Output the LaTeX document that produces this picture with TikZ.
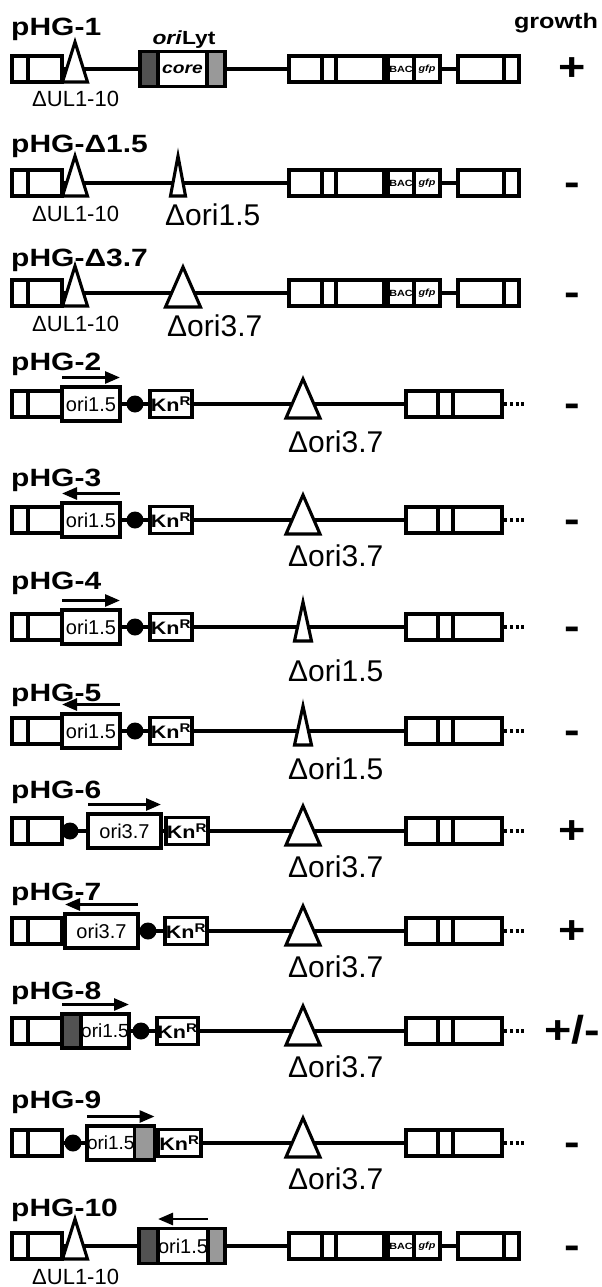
\documentclass[tikz,border=0pt]{standalone}
\usepackage{fontspec}
\setmainfont{Liberation Sans}
\usepackage{graphicx}
\usetikzlibrary{arrows.meta, positioning, backgrounds}

\definecolor{darkseg}{gray}{0.32}
\definecolor{lightseg}{gray}{0.60}

% wide bold lettering of the panel
\newcommand{\wide}[1]{\scalebox{1.2}[1]{#1}}
% deletion mark: base centre x, base y, half base, height
\newcommand{\deltri}[4]{\draw[delmark] ({#1-#3},{#2}) -- ({#1},{#2-#4}) -- ({#1+#3},{#2}) -- cycle;}

\tikzset{
  seg/.style={draw, line width=3.1pt, fill=white, minimum height=26pt, inner sep=0pt, outer sep=0pt, anchor=west},
  orib/.style={seg, minimum height=34pt, font=\fontsize{20}{20}\selectfont},
  lytb/.style={seg, minimum height=35pt},
  knr/.style={seg, minimum height=27pt, font=\bfseries\fontsize{18}{18}\selectfont},
  tagb/.style={seg, font=\bfseries\fontsize{9}{9}\selectfont},
  rdot/.style={circle, fill=black, minimum size=17pt, inner sep=0pt, outer sep=0pt},
  backbone/.style={line width=3.1pt},
  trail/.style={line width=3.1pt, dash pattern=on 5pt off 3pt on 3pt off 2.5pt on 3pt off 2.5pt on 3pt},
  dirarrow/.style={line width=2.8pt},
  fwd/.style={dirarrow, -{Triangle[length=15pt,width=12pt]}},
  rev/.style={dirarrow, {Triangle[length=15pt,width=12pt]}-},
  delmark/.style={draw, line width=3.1pt, fill=white},
  clone/.style={font=\bfseries\fontsize{25}{25}\selectfont, anchor=base west, inner sep=0pt},
  dellab/.style={font=\fontsize{30}{30}\selectfont, anchor=base west, inner sep=0pt},
  ullab/.style={font=\fontsize{22}{22}\selectfont, anchor=base west, inner sep=0pt},
  score/.style={font=\bfseries\fontsize{39}{39}\selectfont, anchor=base, inner sep=0pt},
}

\begin{document}
\begin{tikzpicture}[x=1pt, y=-1pt]
% page
\begin{scope}[on background layer]
  \fill[white] (0,0) rectangle (602,1287);
\end{scope}
\useasboundingbox (0,0) rectangle (602,1287);

% clone names
\foreach \y/\t in {36/pHG-1, 153/pHG-Δ1.5, 266/pHG-Δ3.7, 370/pHG-2, 486/pHG-3, 589/pHG-4,
                   701/pHG-5, 798/pHG-6, 900/pHG-7, 999/pHG-8, 1108/pHG-9, 1216/pHG-10}
  \node[clone] (name\y) at (11,\y) {\wide{\t}};

% growth column
\node[font=\bfseries\fontsize{21}{21}\selectfont, anchor=base, inner sep=0pt] (growth) at (556,29) {\wide{growth}};
\foreach \cy/\g in {69/+, 183/-, 293/-, 404/-, 520/-, 627/-, 731/-, 831/+, 931/+, 1031/{+/-}, 1143/-, 1246/-}
  \node[score] (score\cy) at (572,\cy+12) {\wide{\g}};

% full-length constructs
\foreach \r/\cy in {1/69, 2/183, 3/293, 12/1246} {
  \node[seg, minimum width=16pt] (left\r-a) at (12,\cy) {};
  \node[seg, minimum width=34pt, right=0pt of left\r-a] (left\r-b) {};
  \node[seg, minimum width=33pt] (gene\r-a) at (289,\cy) {};
  \node[seg, minimum width=14pt, right=0pt of gene\r-a] (gene\r-b) {};
  \node[seg, minimum width=48pt, right=0pt of gene\r-b] (gene\r-c) {};
  \node[tagb, minimum width=26pt] (bac\r) at (388,\cy) {\wide{BAC}};
  \node[tagb, minimum width=26pt, right=0pt of bac\r] (gfp\r) {\wide{\textit{gfp}}};
  \node[seg, minimum width=46pt] (end\r-a) at (458,\cy) {};
  \node[seg, minimum width=15pt, right=0pt of end\r-a] (end\r-b) {};
  \begin{scope}[on background layer]
    \draw[backbone] (left\r-b.east) -- (end\r-a.west);
  \end{scope}
  \deltri{75}{\cy+13}{12.5}{40}
  \node[ullab] (ul\r) at (32,\cy+38) {ΔUL1-10};
}

% oriLyt of pHG-1
\node[lytb, minimum width=18pt, fill=darkseg] (lyt1-a) at (140,69) {};
\node[lytb, minimum width=49pt, right=0pt of lyt1-a, font=\bfseries\itshape\fontsize{16}{16}\selectfont] (lyt1-b) {\wide{core}};
\node[lytb, minimum width=18pt, fill=lightseg, right=0pt of lyt1-b] (lyt1-c) {};
\node[font=\bfseries\fontsize{19}{19}\selectfont, anchor=base, inner sep=0pt] (lytname) at (184,45) {\wide{\textit{ori}Lyt}};

% deletions of pHG-D1.5 and pHG-D3.7
\deltri{178}{196}{7.5}{40}
\node[dellab] (del2) at (165,225) {Δori1.5};
\deltri{183}{307}{17.5}{40}
\node[dellab] (del3) at (167,336) {Δori3.7};

% oriLyt of pHG-10
\node[lytb, minimum width=19pt, fill=darkseg] (lyt12-a) at (139,1246) {};
\node[lytb, minimum width=50pt, right=0pt of lyt12-a, font=\fontsize{20}{20}\selectfont] (lyt12-b) {ori1.5};
\node[lytb, minimum width=17pt, fill=lightseg, right=0pt of lyt12-b] (lyt12-c) {};
\draw[rev] ([yshift=9.5pt]lyt12-b.north west) -- ([yshift=9.5pt]lyt12-b.north east);

% insertion constructs
\foreach \r/\cy/\dl/\dv/\hw in {4/404/452/3.7/17, 5/520/566/3.7/17, 6/627/681/1.5/8.5, 7/731/779/1.5/8.5,
                               8/831/877/3.7/17, 9/931/977/3.7/17, 10/1031/1077/3.7/17, 11/1143/1189/3.7/17} {
  \node[seg, minimum width=16pt] (left\r-a) at (12,\cy) {};
  \node[seg, minimum width=34pt, right=0pt of left\r-a] (left\r-b) {};
  \node[seg, minimum width=32pt] (right\r-a) at (406,\cy) {};
  \node[seg, minimum width=15pt, right=0pt of right\r-a] (right\r-b) {};
  \node[seg, minimum width=49pt, right=0pt of right\r-b] (right\r-c) {};
  \draw[trail] (right\r-c.east) -- ++(22,0);
  \begin{scope}[on background layer]
    \draw[backbone] (left\r-b.east) -- (right\r-a.west);
  \end{scope}
  \deltri{303}{\cy+14}{\hw}{39}
  \node[dellab] (del\r) at (288,\dl) {Δori\dv};
}

% ori1.5 next to the left arm
\foreach \r/\cy/\dir in {4/404/fwd, 5/520/rev, 6/627/fwd, 7/731/rev} {
  \node[orib, minimum width=58pt] (ori\r) at (62,\cy) {ori1.5};
  \node[rdot] (dot\r) at (135,\cy) {};
  \node[knr, minimum width=42pt] (kn\r) at (150,\cy) {\wide{Kn\textsuperscript{R}}};
  \draw[\dir] ([yshift=9.5pt]ori\r.north west) -- ([yshift=9.5pt]ori\r.north east);
}

% pHG-6
\node[rdot] (dot8) at (70,831) {};
\node[orib, minimum width=73pt] (ori8) at (88,831) {ori3.7};
\node[knr, minimum width=42pt] (kn8) at (166,831) {\wide{Kn\textsuperscript{R}}};
\draw[fwd] ([yshift=9.5pt]ori8.north west) -- ([yshift=9.5pt]ori8.north east);

% pHG-7
\node[orib, minimum width=73pt] (ori9) at (65,931) {ori3.7};
\node[rdot] (dot9) at (148,931) {};
\node[knr, minimum width=42pt] (kn9) at (165,931) {\wide{Kn\textsuperscript{R}}};
\draw[rev] ([yshift=9.5pt]ori9.north west) -- ([yshift=9.5pt]ori9.north east);

% pHG-8
\node[orib, minimum width=19pt, fill=darkseg] (ori10-a) at (62,1031) {};
\node[orib, minimum width=48pt, right=0pt of ori10-a, font=\fontsize{19}{19}\selectfont] (ori10-b) {ori1.5};
\node[rdot] (dot10) at (141,1031) {};
\node[knr, minimum width=41pt] (kn10) at (157,1031) {\wide{Kn\textsuperscript{R}}};
\draw[fwd] ([yshift=9.5pt]ori10-a.north west) -- ([yshift=9.5pt]ori10-b.north east);

% pHG-9
\node[rdot] (dot11) at (73,1143) {};
\node[orib, minimum width=46pt, font=\fontsize{19}{19}\selectfont] (ori11-a) at (87,1143) {ori1.5};
\node[orib, minimum width=20pt, fill=lightseg, right=0pt of ori11-a] (ori11-b) {};
\node[knr, minimum width=43pt] (kn11) at (158,1143) {\wide{Kn\textsuperscript{R}}};
\draw[fwd] ([yshift=9.5pt]ori11-a.north west) -- ([yshift=9.5pt]ori11-b.north east);
\end{tikzpicture}
\end{document}
